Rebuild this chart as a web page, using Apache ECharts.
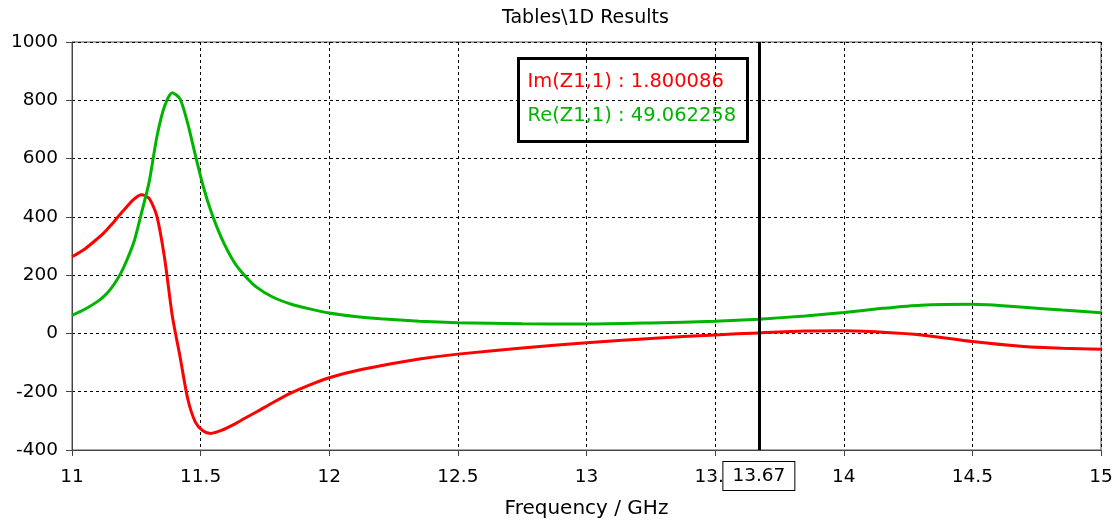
<!DOCTYPE html>
<html>
<head>
<meta charset="utf-8">
<title>Tables\1D Results</title>
<script src="https://cdn.jsdelivr.net/npm/echarts@6/dist/echarts.min.js"></script>
<style>
  html, body { margin: 0; padding: 0; background: #fff; }
  #chart { width: 1117px; height: 529px; }
</style>
</head>
<body>
<div id="chart"></div>
<script>
// frequency samples (GHz)
const freq = [11.00, 11.05, 11.10, 11.125, 11.15, 11.175, 11.20, 11.24, 11.27, 11.30,
  11.33, 11.36, 11.39, 11.42, 11.45, 11.48, 11.51, 11.54, 11.58, 11.63,
  11.67, 11.72, 11.78, 11.85, 11.92, 12.00, 12.10, 12.20, 12.35, 12.50,
  12.75, 13.00, 13.25, 13.50, 13.67, 13.85, 14.00, 14.15, 14.30, 14.50,
  14.70, 14.85, 15.00]

// Im(Z1,1)
const imZ = [263, 290, 326, 346, 370, 396, 422, 460, 476, 463,
  402, 258, 60, -80, -225, -305, -335, -343, -333, -312,
  -292, -268, -238, -205, -178, -152, -129, -111, -88, -71,
  -50, -32, -17, -5, 1.8, 8, 9, 4, -5, -28,
  -45, -51, -54]

// Re(Z1,1)
const reZ = [62, 83, 110, 128, 152, 184, 225, 312, 413, 520,
  675, 780, 826, 805, 720, 610, 505, 420, 330, 245,
  200, 157, 125, 101, 85, 70, 58, 50, 42, 37,
  33, 32, 36, 42, 49.06, 60, 72, 86, 97, 100,
  90, 80, 71]

// y ticks
const yTicks = [-400, -200, 0, 200, 400, 600, 800, 1000]

const markerFreq = 13.667
const markerLabel = '13.67'
const readout = ['Im(Z1,1) : 1.800086', 'Re(Z1,1) : 49.062258']

const FONT = 'DejaVu Sans'

const chart = echarts.init(document.getElementById('chart'))

const pairs = arr => freq.map((f, i) => [f, arr[i]])

chart.setOption({
  animation: false,
  backgroundColor: '#fff',
  title: {
    text: 'Tables\\1D Results',
    left: 497,
    top: 4,
    textStyle: { fontFamily: FONT, fontSize: 19, fontWeight: 'normal', color: '#000' }
  },
  grid: {
    left: 72,
    right: 16,
    top: 42,
    bottom: 79,
    show: true,
    borderColor: '#555',
    borderWidth: 1
  },
  xAxis: {
    type: 'value',
    min: 11,
    max: 15,
    interval: 0.5,
    name: 'Frequency / GHz',
    nameLocation: 'middle',
    nameGap: 49,
    nameTextStyle: { fontFamily: FONT, fontSize: 20, color: '#000' },
    axisLine: { onZero: false, lineStyle: { color: '#444', width: 1 } },
    axisTick: { show: true, length: 6, lineStyle: { color: '#444' } },
    axisLabel: { fontFamily: FONT, fontSize: 18.5, color: '#000', margin: 18 },
    splitLine: { show: true, lineStyle: { color: '#000', type: [3, 3], width: 1 } }
  },
  yAxis: {
    type: 'value',
    min: yTicks[0],
    max: yTicks[yTicks.length - 1],
    interval: yTicks[1] - yTicks[0],
    axisLine: { show: true, onZero: false, lineStyle: { color: '#444', width: 1 } },
    axisTick: { show: true, length: 6, lineStyle: { color: '#444' } },
    axisLabel: {
      fontFamily: FONT,
      fontSize: 18.5,
      color: '#000',
      margin: 14,
      formatter: v => String(v)
    },
    splitLine: { show: true, lineStyle: { color: '#000', type: [3, 3], width: 1 } }
  },
  series: [
    {
      name: 'Im(Z1,1)',
      type: 'line',
      data: pairs(imZ),
      smooth: 0.25,
      symbol: 'none',
      lineStyle: { color: '#ff0000', width: 3 }
    },
    {
      name: 'Re(Z1,1)',
      type: 'line',
      data: pairs(reZ),
      smooth: 0.25,
      symbol: 'none',
      lineStyle: { color: '#00b400', width: 3 },
      markLine: {
        silent: true,
        symbol: 'none',
        lineStyle: { color: '#000', width: 3, type: 'solid' },
        label: {
          show: true,
          position: 'start',
          distance: 12,
          formatter: markerLabel,
          fontFamily: FONT,
          fontSize: 18.5,
          color: '#000',
          backgroundColor: '#fff',
          borderColor: '#000',
          borderWidth: 1,
          padding: [5, 9, 4, 9]
        },
        data: [{ xAxis: markerFreq }]
      }
    }
  ],
  graphic: [
    {
      type: 'group',
      left: 517,
      top: 57,
      z: 100,
      children: [
        {
          type: 'rect',
          shape: { x: 0, y: 0, width: 229, height: 83 },
          style: { fill: '#fff', stroke: '#000', lineWidth: 3 }
        },
        {
          type: 'text',
          x: 9,
          y: 23,
          style: {
            text: readout[0],
            fill: '#ff0000',
            font: '19.5px "DejaVu Sans"',
            verticalAlign: 'middle'
          }
        },
        {
          type: 'text',
          x: 9,
          y: 57,
          style: {
            text: readout[1],
            fill: '#00b400',
            font: '19.5px "DejaVu Sans"',
            verticalAlign: 'middle'
          }
        }
      ]
    }
  ]
})
</script>
</body>
</html>
